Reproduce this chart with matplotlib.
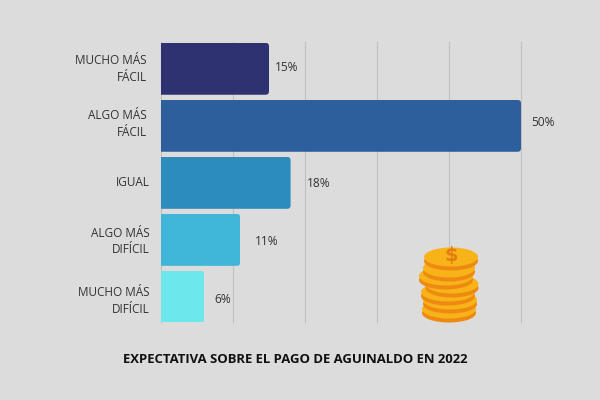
import matplotlib
matplotlib.use('Agg')
import matplotlib.pyplot as plt
from matplotlib.patches import Ellipse, PathPatch
from matplotlib.path import Path

# data
labels = ['MUCHO MÁS\nFÁCIL', 'ALGO MÁS\nFÁCIL', 'IGUAL', 'ALGO MÁS\nDIFÍCIL', 'MUCHO MÁS\nDIFÍCIL']
values = [15, 50, 18, 11, 6]
colors = ['#2E3270', '#2C5F9B', '#2C8CBB', '#40B6D8', '#6CE8EC']
title = 'EXPECTATIVA SOBRE EL PAGO DE AGUINALDO EN 2022'

# labels are not evenly placed in the original, offsets in pixels from bar end / bar centre
value_dx = [6, 10, 16, 15, 10]
value_dy = [-1, -3, 1, 2, 2.5]
label_dx = [-3, -3, 0, 0, 0]
label_dy = [-3, -5, -2, -1.5, 1]

# coin stack, bottom coin first: centre x, centre y, width (pixels of the image)
coin_x = [449, 450, 448, 452, 446, 449, 451]
coin_y = [309, 300, 292, 284, 276, 268, 257]
coin_w = [54, 54, 54, 53, 54, 52, 54]

BG = '#DCDCDC'
TEXT = '#333333'
GRID = '#BFBFBF'
W, H = 600, 400
PX = 72 / 100  # points per image pixel


def round_right(bar, ax, radius=3.5):
    # rounded right corners, radius given in pixels
    x0, y0, x1, y1 = bar.get_x(), bar.get_y(), bar.get_x() + bar.get_width(), bar.get_y() + bar.get_height()
    px = abs(ax.transData.transform((1, 0))[0] - ax.transData.transform((0, 0))[0])
    py = abs(ax.transData.transform((0, 1))[1] - ax.transData.transform((0, 0))[1])
    rx, ry = radius / px, radius / py
    verts = [(x0, y0), (x1 - rx, y0), (x1, y0), (x1, y0 + ry), (x1, y1 - ry), (x1, y1), (x1 - rx, y1), (x0, y1), (x0, y0)]
    codes = [Path.MOVETO, Path.LINETO, Path.CURVE3, Path.CURVE3, Path.LINETO, Path.CURVE3, Path.CURVE3, Path.LINETO, Path.CLOSEPOLY]
    bar.set_clip_path(PathPatch(Path(verts, codes), transform=ax.transData))


def main():
    plt.rcParams['font.family'] = ['Open Sans', 'DejaVu Sans']

    fig = plt.figure(figsize=(6, 4), dpi=100, facecolor=BG)
    # axes box: x 161-521, y 42-322 in image pixels
    ax = fig.add_axes([161 / W, 1 - 322 / H, 360 / W, 280 / H], facecolor=BG)
    ax.set_xlim(0, 50)
    ax.set_ylim(4.44, -0.47)

    ypos = list(range(len(values)))
    bars = ax.barh(ypos, values, height=0.91, color=colors, zorder=3)
    for bar in bars:
        round_right(bar, ax)

    ax.set_xticks([0, 10, 20, 30, 40, 50])
    ax.set_yticks(ypos)
    ax.set_yticklabels(labels, fontsize=8.5, color=TEXT, linespacing=1.35)
    ax.tick_params(axis='both', length=0, pad=8)
    ax.tick_params(axis='x', labelbottom=False)
    ax.grid(axis='x', color=GRID, linewidth=0.8, zorder=0, clip_on=False)
    ax.set_axisbelow(True)
    for spine in ax.spines.values():
        spine.set_visible(False)
    for tick, dx, dy in zip(ax.get_yticklabels(), label_dx, label_dy):
        tick.set_transform(tick.get_transform() + matplotlib.transforms.Affine2D().translate(dx, -dy))

    for y, v, dx, dy in zip(ypos, values, value_dx, value_dy):
        ax.annotate('{}%'.format(v), (v, y), xytext=(dx * PX, -dy * PX), textcoords='offset points',
                    va='center', ha='left', fontsize=8.6, color=TEXT, annotation_clip=False)

    fig.text(295.5 / W, 1 - 359.5 / H, title, ha='center', va='center', fontsize=9.47,
             fontweight='bold', color='#111111')

    # overlay in image pixels for the coin decoration
    deco = fig.add_axes([0, 0, 1, 1], facecolor='none')
    deco.set_xlim(0, W)
    deco.set_ylim(H, 0)
    deco.axis('off')
    for cx, cy, cw in zip(coin_x, coin_y, coin_w):
        deco.add_patch(Ellipse((cx, cy + 4), cw, 19, facecolor='#EE8A12', edgecolor='none'))
        deco.add_patch(Ellipse((cx, cy), cw, 19, facecolor='#F8B318', edgecolor='none'))
    deco.text(coin_x[-1], coin_y[-1] - 1, '$', ha='center', va='center', fontsize=14,
              fontweight='bold', color='#E07F10', family='DejaVu Sans')

    fig.savefig('out.png', dpi=100, facecolor=BG)


if __name__ == '__main__':
    main()
